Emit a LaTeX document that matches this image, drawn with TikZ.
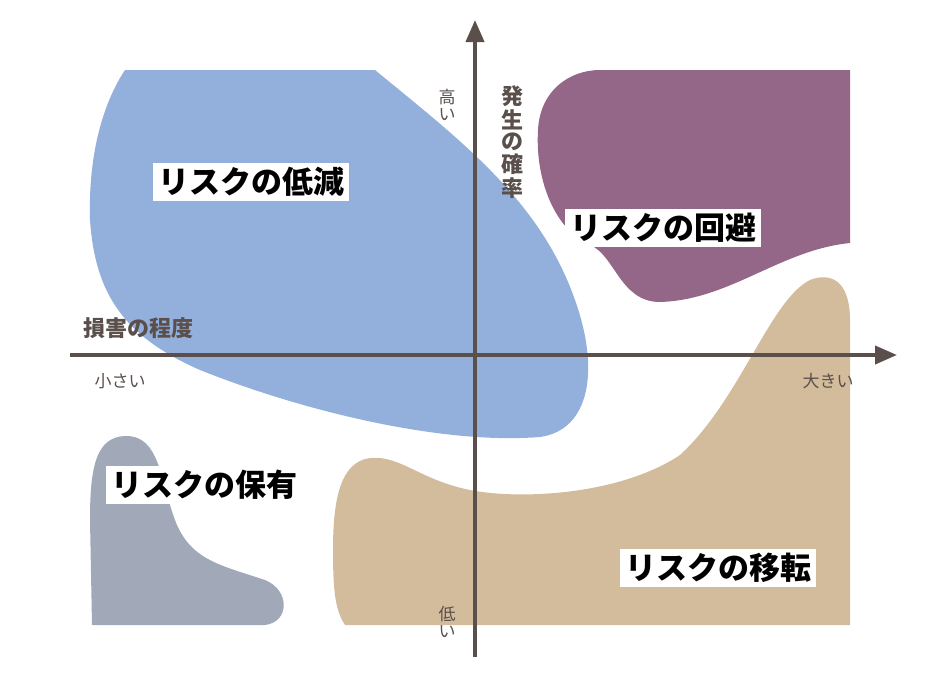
\documentclass[tikz,border=0pt]{standalone}
\usepackage{fontspec}
\setmainfont{Noto Sans CJK JP}
\usetikzlibrary{arrows.meta}
\definecolor{cblue}{HTML}{93B0DC}
\definecolor{cpur}{HTML}{946687}
\definecolor{ctan}{HTML}{D3BC9C}
\definecolor{cgray}{HTML}{A1A9B9}
\definecolor{axis}{HTML}{5A4F4A}
\begin{document}
\begin{tikzpicture}[x=1pt,y=-1pt,
  lab/.style={fill=white,inner xsep=5pt,inner ysep=4pt,font=\fontsize{31}{33}\selectfont\bfseries,text=black},
  axl/.style={text=axis,font=\fontsize{22}{24}\selectfont\bfseries},
  sml/.style={text=axis,font=\fontsize{17}{18}\selectfont,align=center}]
\useasboundingbox (0,0) rectangle (950,683);
\fill[cblue] (125,70) -- (375,70) .. controls (460,140) and (540,200) .. (575,300)
  .. controls (600,370) and (590,430) .. (540,437)
  .. controls (440,445) and (300,410) .. (200,370)
  .. controls (120,335) and (95,290) .. (90,220)
  .. controls (88,150) and (105,100) .. (125,70) -- cycle;
\fill[cpur] (600,70) -- (850,70) -- (850,243)
  .. controls (780,250) and (730,300) .. (660,302)
  .. controls (620,302) and (615,255) .. (590,245)
  .. controls (555,230) and (535,180) .. (538,130)
  .. controls (540,90) and (570,70) .. (600,70) -- cycle;
\fill[ctan] (850,625) -- (850,320) .. controls (850,280) and (830,272) .. (810,280)
  .. controls (770,300) and (740,400) .. (680,455)
  .. controls (620,495) and (520,500) .. (470,490)
  .. controls (420,480) and (400,455) .. (370,458)
  .. controls (340,462) and (333,500) .. (333,550)
  .. controls (333,590) and (335,610) .. (345,625) -- cycle;
\fill[cgray] (92,625) -- (265,625) .. controls (290,622) and (290,590) .. (265,580)
  .. controls (220,565) and (190,560) .. (175,520)
  .. controls (160,480) and (160,435) .. (125,436)
  .. controls (95,437) and (90,470) .. (90,520) -- cycle;
\coordinate (hl) at (70,355); \coordinate (hr) at (897,355);
\coordinate (vb) at (475,657); \coordinate (vt) at (475,20);
\draw[axis,line width=4pt,-{Triangle[length=22pt,width=18pt]}] (hl) -- (hr);
\draw[axis,line width=4pt,-{Triangle[length=22pt,width=18pt]}] (vb) -- (vt);
\node[lab] (a) at (251,182) {リスクの低減};
\node[lab] (b) at (663,228) {リスクの回避};
\node[lab] (c) at (204,485) {リスクの保有};
\node[lab] (d) at (718,568) {リスクの移転};
\node[axl] (e) at (138,328) {損害の程度};
\node[sml] (f) at (120,381) {小さい};
\node[sml] (g) at (828,381) {大きい};
\node[sml] (h) at (447,105) {\shortstack{高\\い}};
\node[sml] (i) at (447,622) {\shortstack{低\\い}};
\node[axl] (j) at (512,142) {\shortstack{発\\生\\の\\確\\率}};
\end{tikzpicture}
\end{document}
